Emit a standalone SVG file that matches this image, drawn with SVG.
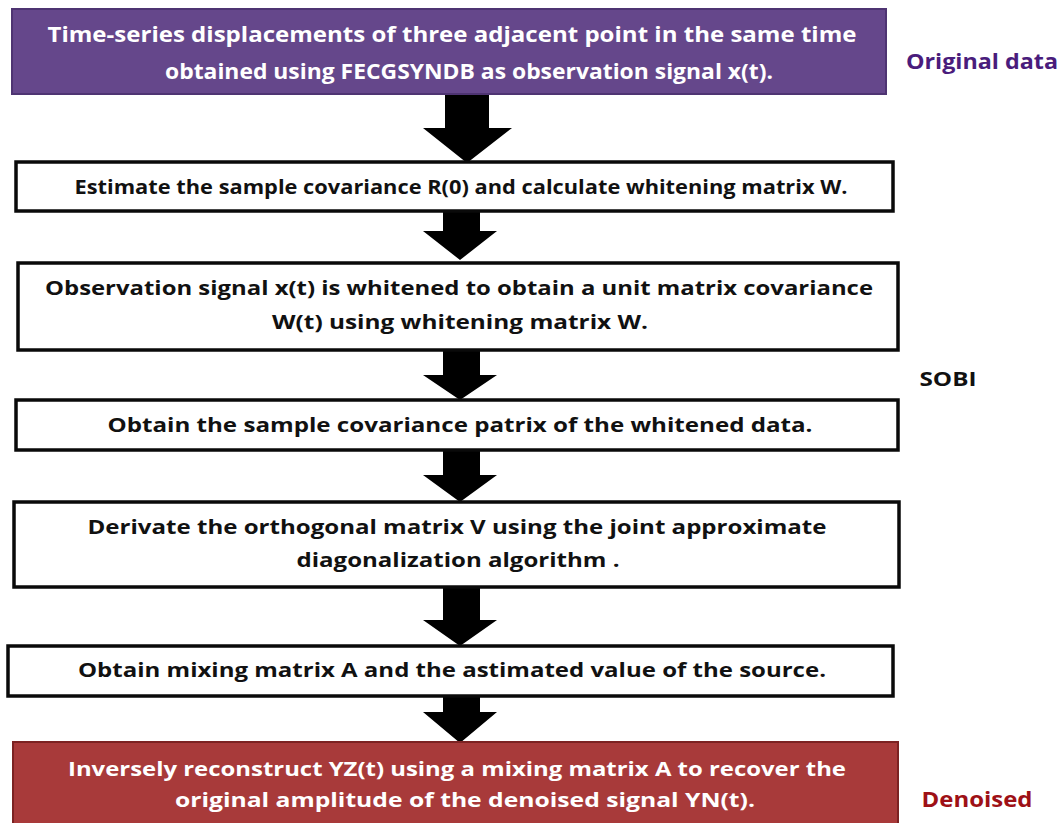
<svg xmlns="http://www.w3.org/2000/svg" width="1064" height="823" viewBox="0 0 1064 823">
  <style>
    .txt { font-family: "Open Sans", "DejaVu Sans", sans-serif; font-weight: 700; text-anchor: middle; }
    .dark { fill: #111111; }
    .light { fill: #ffffff; }
    .step { fill: #ffffff; stroke: #0a0a0a; stroke-width: 3.5; }
    .arrow { fill: #000000; }
  </style>
  <rect width="1064" height="823" fill="#ffffff"/>

  <!-- flow arrows -->
  <g id="connectors">
    <polygon class="arrow" points="445,94 489,94 489,128 512,128 467,163 423,128 445,128"/>
    <polygon class="arrow" points="443,211 480,211 480,231 497,231 460,260 423,231 443,231"/>
    <polygon class="arrow" points="443,350 480,350 480,375 497,375 460,400 423,375 443,375"/>
    <polygon class="arrow" points="443,450 480,450 480,475 497,475 460,502 423,475 443,475"/>
    <polygon class="arrow" points="443,587 480,587 480,620 497,620 460,646 423,620 443,620"/>
    <polygon class="arrow" points="443,696 480,696 480,712 497,712 460,743 423,712 443,712"/>
  </g>

  <g id="original-data">
    <rect x="12" y="9" width="874" height="85" fill="#65478b" stroke="#4e3472" stroke-width="2"/>
    <text class="txt light" x="452" y="42" font-size="21" textLength="809" lengthAdjust="spacingAndGlyphs">Time-series displacements of three adjacent point in the same time</text>
    <text class="txt light" x="469" y="79" font-size="21" textLength="608" lengthAdjust="spacingAndGlyphs">obtained using FECGSYNDB as observation signal x(t).</text>
  </g>

  <g id="estimate-covariance">
    <rect class="step" x="16" y="162" width="877" height="49"/>
    <text class="txt dark" x="461" y="194" font-size="19" textLength="773" lengthAdjust="spacingAndGlyphs">Estimate the sample covariance R(0) and calculate whitening matrix W.</text>
  </g>

  <g id="whitening">
    <rect class="step" x="18" y="263" width="880" height="87"/>
    <text class="txt dark" x="459" y="295" font-size="20" textLength="828" lengthAdjust="spacingAndGlyphs">Observation signal x(t) is whitened to obtain a unit matrix covariance</text>
    <text class="txt dark" x="460" y="329" font-size="20" textLength="376" lengthAdjust="spacingAndGlyphs">W(t) using whitening matrix W.</text>
  </g>

  <g id="whitened-covariance">
    <rect class="step" x="16" y="400" width="882" height="50"/>
    <text class="txt dark" x="460" y="432" font-size="20" textLength="705" lengthAdjust="spacingAndGlyphs">Obtain the sample covariance patrix of the whitened data.</text>
  </g>

  <g id="orthogonal-matrix">
    <rect class="step" x="14" y="502" width="885" height="85"/>
    <text class="txt dark" x="457" y="534" font-size="20" textLength="739" lengthAdjust="spacingAndGlyphs">Derivate the orthogonal matrix V using the joint approximate</text>
    <text class="txt dark" x="458" y="567" font-size="20" textLength="323" lengthAdjust="spacingAndGlyphs">diagonalization algorithm .</text>
  </g>

  <g id="mixing-matrix">
    <rect class="step" x="8" y="646" width="885" height="50"/>
    <text class="txt dark" x="452" y="677" font-size="20" textLength="748" lengthAdjust="spacingAndGlyphs">Obtain mixing matrix A and the astimated value of the source.</text>
  </g>

  <g id="reconstruct">
    <rect x="13" y="742" width="885" height="90" fill="#a83a3a" stroke="#7c2222" stroke-width="2"/>
    <text class="txt light" x="457" y="776" font-size="20" textLength="778" lengthAdjust="spacingAndGlyphs">Inversely reconstruct YZ(t) using a mixing matrix A to recover the</text>
    <text class="txt light" x="465" y="807" font-size="20" textLength="580" lengthAdjust="spacingAndGlyphs">original amplitude of the denoised signal YN(t).</text>
  </g>

  <g id="side-labels">
    <text class="txt" x="982" y="69" font-size="21" fill="#4a1c7c" textLength="152" lengthAdjust="spacingAndGlyphs">Original data</text>
    <text class="txt dark" x="948" y="386" font-size="19" textLength="57" lengthAdjust="spacingAndGlyphs">SOBI</text>
    <text class="txt" x="977" y="807" font-size="21" fill="#9e1016" textLength="111" lengthAdjust="spacingAndGlyphs">Denoised</text>
  </g>
</svg>
